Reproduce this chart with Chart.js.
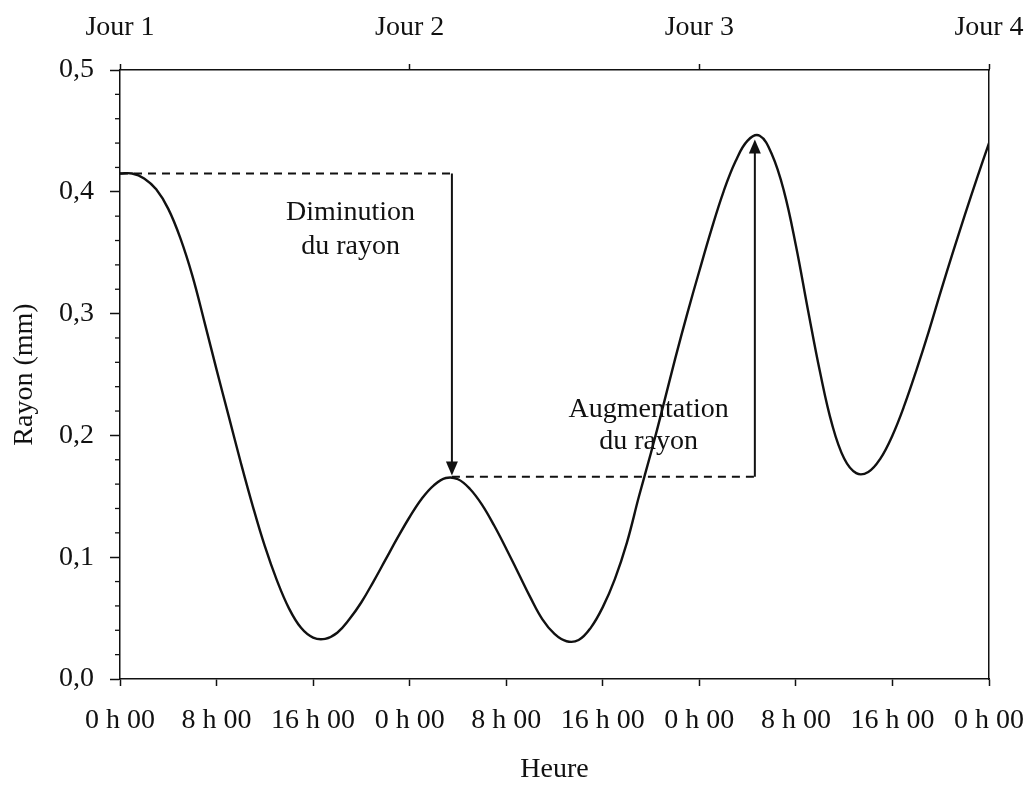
<!DOCTYPE html>
<html>
<head>
<meta charset="utf-8">
<script src="https://cdn.jsdelivr.net/npm/chart.js@4"></script>
<style>
  html, body { margin: 0; padding: 0; background: #fff; }
  #wrap { width: 1032px; height: 788px; }
</style>
</head>
<body>
<div id="wrap"><canvas id="rayonChart"></canvas></div>
<script>
// heures depuis le début du jour 1, rayon en mm
const hours = [0, 1, 2, 3, 4, 5, 6, 7, 8, 9, 10, 11, 12, 13, 14, 15, 16, 17, 18, 19, 20, 21, 22, 23, 24,
  25, 26, 27, 28, 29, 30, 31, 32, 33, 34, 35, 36, 37, 38, 39, 40, 41, 42, 43, 44, 45, 46, 47, 48,
  49, 50, 51, 52, 53, 54, 55, 56, 57, 58, 59, 60, 61, 62, 63, 64, 65, 66, 67, 68, 69, 70, 71, 72];
const radius = [0.415, 0.415, 0.411, 0.402, 0.386, 0.362, 0.331, 0.293, 0.254, 0.216, 0.178, 0.142, 0.109,
  0.081, 0.058, 0.042, 0.034, 0.033, 0.038, 0.049, 0.063, 0.080, 0.098, 0.116, 0.133,
  0.148, 0.159, 0.165, 0.164, 0.156, 0.143, 0.126, 0.107, 0.087, 0.067, 0.049, 0.037, 0.031, 0.032,
  0.042, 0.059, 0.082, 0.112, 0.150, 0.186, 0.224, 0.263, 0.300, 0.335, 0.369, 0.400, 0.425, 0.442,
  0.446, 0.431, 0.401, 0.356, 0.303, 0.252, 0.209, 0.181, 0.169, 0.170, 0.181, 0.200, 0.225, 0.254,
  0.285, 0.318, 0.350, 0.381, 0.411, 0.440];

const hourLabels = ['0 h 00', '8 h 00', '16 h 00', '0 h 00', '8 h 00', '16 h 00', '0 h 00', '8 h 00', '16 h 00', '0 h 00'];
const dayLabels = ['Jour 1', 'Jour 2', 'Jour 3', 'Jour 4'];
const yTickLabels = ['0,0', '0,1', '0,2', '0,3', '0,4', '0,5'];

// annotations, en coordonnées des données [h1, v1, h2, v2]
const dashedLines = [[0, 0.415, 27.5, 0.415], [27.5, 0.166, 52.6, 0.166]];
const arrows = [[27.5, 0.415, 27.5, 0.167], [52.6, 0.166, 52.6, 0.443]];
const notes = [
  { h: 19.1, v: 0.383, text: 'Diminution' },
  { h: 19.1, v: 0.355, text: 'du rayon' },
  { h: 43.8, v: 0.221, text: 'Augmentation' },
  { h: 43.8, v: 0.195, text: 'du rayon' }
];

const FONT = '"Liberation Serif", "Times New Roman", serif';
const INK = '#111';

const annotate = {
  id: 'annotate',
  afterDatasetsDraw(chart) {
    const { ctx, scales: { x, y } } = chart;
    ctx.save();
    // petites graduations de l'axe des y
    ctx.strokeStyle = INK;
    ctx.lineWidth = 1.3;
    for (let i = 0; i <= 25; i++) {
      if (i % 5 === 0) continue;
      const py = y.getPixelForValue(i * 0.02);
      ctx.beginPath();
      ctx.moveTo(x.left - 5, py);
      ctx.lineTo(x.left, py);
      ctx.stroke();
    }
    // lignes pointillées
    ctx.setLineDash([8, 6]);
    ctx.lineWidth = 2;
    dashedLines.forEach(([h1, v1, h2, v2]) => {
      ctx.beginPath();
      ctx.moveTo(x.getPixelForValue(h1), y.getPixelForValue(v1));
      ctx.lineTo(x.getPixelForValue(h2), y.getPixelForValue(v2));
      ctx.stroke();
    });
    ctx.setLineDash([]);
    // flèches
    ctx.lineWidth = 2;
    ctx.fillStyle = INK;
    arrows.forEach(([h1, v1, h2, v2]) => {
      const px = x.getPixelForValue(h1);
      const y1 = y.getPixelForValue(v1);
      const y2 = y.getPixelForValue(v2);
      const dir = y2 > y1 ? 1 : -1;
      ctx.beginPath();
      ctx.moveTo(px, y1);
      ctx.lineTo(px, y2 - dir * 10);
      ctx.stroke();
      ctx.beginPath();
      ctx.moveTo(px, y2);
      ctx.lineTo(px - 6, y2 - dir * 14);
      ctx.lineTo(px + 6, y2 - dir * 14);
      ctx.closePath();
      ctx.fill();
    });
    // textes
    ctx.font = '28px ' + FONT;
    ctx.textAlign = 'center';
    ctx.textBaseline = 'middle';
    notes.forEach(n => {
      ctx.fillText(n.text, x.getPixelForValue(n.h), y.getPixelForValue(n.v));
    });
    ctx.restore();
  }
};

// pas de débord des étiquettes de l'axe horizontal
const noOverhang = s => { s.paddingLeft = 0; s.paddingRight = 0; };

Chart.defaults.font.family = FONT;
Chart.defaults.font.size = 28;
Chart.defaults.color = INK;

const ctx = document.getElementById('rayonChart').getContext('2d');
new Chart(ctx, {
  type: 'line',
  data: {
    datasets: [{
      data: hours.map((h, i) => ({ x: h, y: radius[i] })),
      borderColor: INK,
      borderWidth: 2.4,
      pointRadius: 0,
      fill: false,
      tension: 0.4
    }]
  },
  options: {
    responsive: true,
    maintainAspectRatio: false,
    animation: false,
    layout: { padding: { left: 0, right: 43, top: 0, bottom: 0 } },
    plugins: {
      legend: { display: false },
      tooltip: { enabled: false }
    },
    scales: {
      x: {
        type: 'linear',
        position: 'bottom',
        min: 0,
        max: 72,
        ticks: {
          stepSize: 8,
          autoSkip: false,
          maxRotation: 0,
          padding: 18,
          callback: (v, i) => hourLabels[i]
        },
        grid: { drawOnChartArea: false, tickLength: 7, tickColor: INK, tickWidth: 1.5 },
        border: { color: INK, width: 1.5 },
        title: { display: true, text: 'Heure', padding: { top: 0, bottom: 2 } },
        afterFit: s => { s.height = 109; noOverhang(s); }
      },
      xTop: {
        type: 'linear',
        position: 'top',
        min: 0,
        max: 72,
        ticks: {
          stepSize: 24,
          autoSkip: false,
          maxRotation: 0,
          padding: 20,
          callback: (v, i) => dayLabels[i]
        },
        grid: { drawOnChartArea: false, tickLength: 6, tickColor: INK, tickWidth: 1.5 },
        border: { color: INK, width: 1.5 },
        afterFit: s => { s.height = 70; noOverhang(s); }
      },
      y: {
        position: 'left',
        min: 0,
        max: 0.5,
        ticks: {
          stepSize: 0.1,
          padding: 16,
          callback: v => yTickLabels[Math.round(v * 10)]
        },
        grid: { drawOnChartArea: false, tickLength: 10, tickColor: INK, tickWidth: 1.5 },
        border: { color: INK, width: 1.5 },
        title: { display: true, text: 'Rayon (mm)', padding: { top: 8, bottom: 0 } },
        afterFit: s => { s.width = 120; }
      },
      yRight: {
        position: 'right',
        min: 0,
        max: 0.5,
        ticks: { display: false },
        grid: { display: false, drawTicks: false },
        border: { color: INK, width: 1.5 },
        afterFit: s => { s.width = 0; }
      }
    }
  },
  plugins: [annotate]
});
</script>
</body>
</html>
